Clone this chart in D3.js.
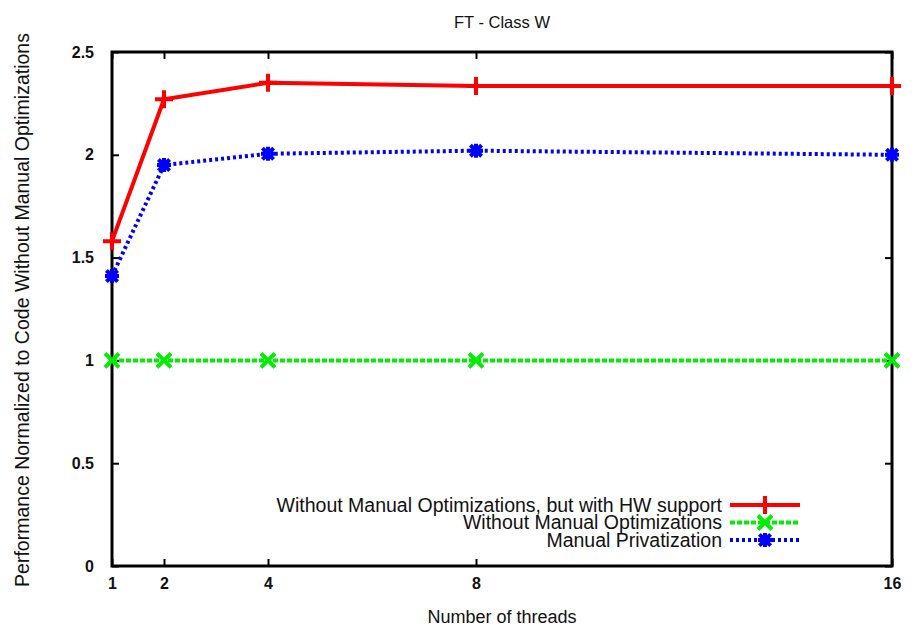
<!DOCTYPE html>
<html>
  <head>
    <title>FT - Class W</title>
    <script src="https://d3js.org/d3.v7.min.js"></script>
    <style>
      body { margin: 0; background: #fff; }
      text { font-family: "Liberation Sans", Arial, sans-serif; fill: #111; }
      .tick text { font-size: 16px; font-weight: bold; }
      .legend text { font-size: 19.5px; text-anchor: end; }
    </style>
  </head>
  <body>
    <svg width="918" height="628"></svg>
    <script>
      // thread counts on the x axis
      const threads = [1, 2, 4, 8, 16];
      const hwSupport = [1.58, 2.27, 2.35, 2.335, 2.335];
      const noManual = [1, 1, 1, 1, 1];
      const manualPriv = [1.41, 1.95, 2.005, 2.02, 2.0];
      const yTicks = [0, 0.5, 1, 1.5, 2, 2.5];

      const series = [
        {name: "Without Manual Optimizations, but with HW support", values: hwSupport, color: "#ff0000", dash: null, mark: "plus"},
        {name: "Without Manual Optimizations", values: noManual, color: "#00ee00", dash: "5,2", mark: "cross"},
        {name: "Manual Privatization", values: manualPriv, color: "#0000ff", dash: "3,3", mark: "star"}
      ];

      const margin = {top: 52, right: 26, bottom: 62, left: 112};
      const svg = d3.select("svg");
      const width = +svg.attr("width");
      const height = +svg.attr("height");
      const innerWidth = width - margin.left - margin.right;
      const innerHeight = height - margin.top - margin.bottom;

      const xScale = d3.scaleLinear().domain([1, 16]).range([0, innerWidth]);
      const yScale = d3.scaleLinear().domain([0, 2.5]).range([innerHeight, 0]);

      const g = svg.append("g")
          .attr("transform", `translate(${margin.left}, ${margin.top})`);

      // axes with inward ticks, mirrored top/right like gnuplot
      const tick = 7;
      g.append("g")
          .attr("transform", `translate(0, ${innerHeight})`)
          .call(d3.axisBottom(xScale).tickValues(threads).tickSizeInner(-tick).tickSizeOuter(0).tickPadding(12))
          .call(a => a.select(".domain").remove());
      g.append("g")
          .call(d3.axisTop(xScale).tickValues(threads).tickSizeInner(-tick).tickSizeOuter(0).tickFormat(""))
          .call(a => a.select(".domain").remove());
      g.append("g")
          .call(d3.axisLeft(yScale).tickValues(yTicks).tickSizeInner(-tick).tickSizeOuter(0).tickPadding(18).tickFormat(d3.format("")))
          .call(a => a.select(".domain").remove());
      g.append("g")
          .attr("transform", `translate(${innerWidth}, 0)`)
          .call(d3.axisRight(yScale).tickValues(yTicks).tickSizeInner(-tick).tickSizeOuter(0).tickFormat(""))
          .call(a => a.select(".domain").remove());
      g.selectAll(".tick line").attr("stroke", "#000").attr("stroke-width", 2);

      g.append("rect")
          .attr("width", innerWidth)
          .attr("height", innerHeight)
          .attr("fill", "none")
          .attr("stroke", "#000")
          .attr("stroke-width", 3);

      function marker(sel, type, size) {
        const s = size;
        let d;
        if (type === "plus") d = `M${-s},0H${s}M0,${-s}V${s}`;
        else if (type === "cross") d = `M${-s},${-s}L${s},${s}M${-s},${s}L${s},${-s}`;
        else d = `M${-s},0H${s}M0,${-s}V${s}M${-s*0.8},${-s*0.8}L${s*0.8},${s*0.8}M${-s*0.8},${s*0.8}L${s*0.8},${-s*0.8}`;
        sel.append("path").attr("d", d);
      }

      const line = d3.line()
          .x((d, i) => xScale(threads[i]))
          .y(d => yScale(d));

      series.forEach(s => {
        g.append("path")
            .datum(s.values)
            .attr("fill", "none")
            .attr("stroke", s.color)
            .attr("stroke-width", 4)
            .attr("stroke-dasharray", s.dash)
            .attr("d", line);
        s.values.forEach((v, i) => {
          const m = g.append("g")
              .attr("transform", `translate(${xScale(threads[i])}, ${yScale(v)})`)
              .attr("stroke", s.color)
              .attr("stroke-width", 4);
          marker(m, s.mark, s.mark === "plus" ? 9 : 7);
        });
      });

      // legend
      const legend = svg.append("g").attr("class", "legend");
      series.forEach((s, i) => {
        const y = 505 + i * 17.5;
        legend.append("text")
            .attr("x", 722)
            .attr("y", y)
            .attr("dy", "0.35em")
            .text(s.name);
        legend.append("line")
            .attr("x1", 730).attr("x2", 800)
            .attr("y1", y).attr("y2", y)
            .attr("stroke", s.color)
            .attr("stroke-width", 4)
            .attr("stroke-dasharray", s.dash);
        const m = legend.append("g")
            .attr("transform", `translate(765, ${y})`)
            .attr("stroke", s.color)
            .attr("stroke-width", 4);
        marker(m, s.mark, s.mark === "plus" ? 9 : 7);
      });

      svg.append("text")
          .attr("x", margin.left + innerWidth / 2)
          .attr("y", 28)
          .attr("text-anchor", "middle")
          .style("font-size", "16.5px")
          .text("FT - Class W");

      svg.append("text")
          .attr("x", margin.left + innerWidth / 2)
          .attr("y", 623)
          .attr("text-anchor", "middle")
          .style("font-size", "18px")
          .text("Number of threads");

      svg.append("text")
          .attr("transform", `translate(29, ${margin.top + innerHeight / 2 + 1}) rotate(-90)`)
          .attr("text-anchor", "middle")
          .style("font-size", "19.5px")
          .text("Performance Normalized to Code Without Manual Optimizations");
    </script>
  </body>
</html>
